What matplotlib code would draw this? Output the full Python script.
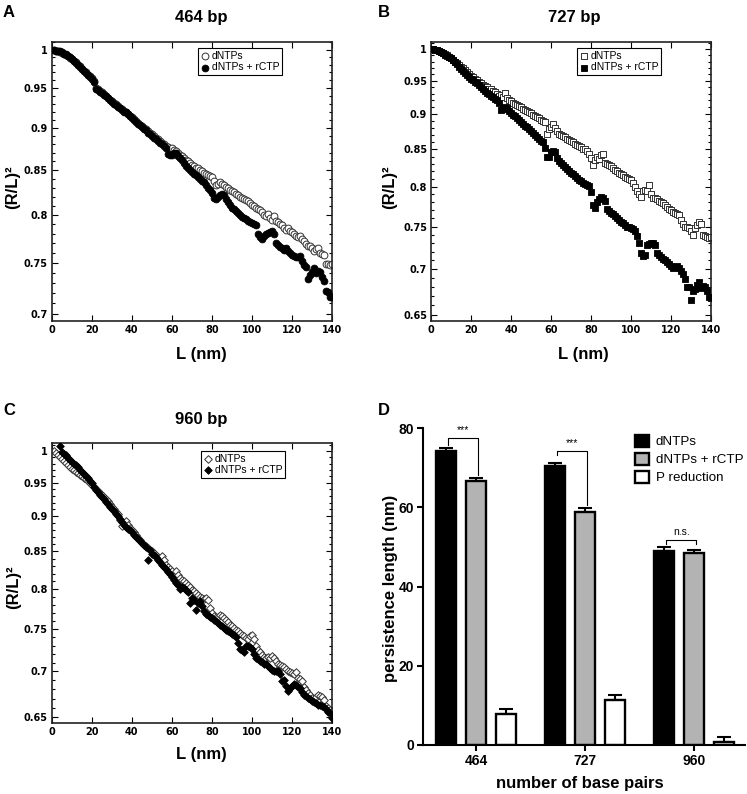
import numpy as np
import matplotlib
matplotlib.use("Agg")
import matplotlib.pyplot as plt
from matplotlib.ticker import FixedLocator, FixedFormatter, NullFormatter

plt.rcParams['font.family'] = ['Liberation Sans', 'DejaVu Sans']

# ---- panel A : 464 bp ----
L_a = np.arange(1, 141)
a_dntp = [1.000, 0.999, 0.998, 0.997, 0.996, 0.995, 0.993, 0.991, 0.989, 0.987,
          0.985, 0.983, 0.980, 0.978, 0.975, 0.972, 0.970, 0.967, 0.965, 0.962,
          0.959, 0.950, 0.948, 0.946, 0.944, 0.942, 0.940, 0.937, 0.935, 0.933,
          0.931, 0.929, 0.927, 0.925, 0.923, 0.921, 0.919, 0.917, 0.915, 0.913,
          0.911, 0.908, 0.906, 0.904, 0.902, 0.900, 0.898, 0.896, 0.894, 0.892,
          0.890, 0.888, 0.886, 0.884, 0.882, 0.880, 0.878, 0.877, 0.875, 0.876,
          0.874, 0.872, 0.870, 0.868, 0.866, 0.864, 0.862, 0.860, 0.858, 0.856,
          0.855, 0.853, 0.852, 0.850, 0.849, 0.847, 0.846, 0.844, 0.843, 0.842,
          0.838, 0.833, 0.834, 0.836, 0.834, 0.833, 0.831, 0.830, 0.828, 0.826,
          0.825, 0.823, 0.822, 0.820, 0.819, 0.818, 0.816, 0.815, 0.813, 0.811,
          0.810, 0.808, 0.806, 0.805, 0.803, 0.800, 0.799, 0.801, 0.797, 0.795,
          0.799, 0.794, 0.792, 0.790, 0.789, 0.786, 0.784, 0.786, 0.783, 0.782,
          0.780, 0.778, 0.777, 0.778, 0.774, 0.772, 0.769, 0.767, 0.767, 0.765,
          0.762, 0.764, 0.765, 0.760, 0.759, 0.758, 0.749, 0.749, 0.748, 0.749]
a_rctp = [1.000, 0.999, 0.999, 0.998, 0.997, 0.995, 0.994, 0.992, 0.990, 0.987,
          0.985, 0.982, 0.980, 0.977, 0.974, 0.972, 0.969, 0.967, 0.964, 0.961,
          0.958, 0.948, 0.947, 0.945, 0.943, 0.941, 0.939, 0.937, 0.935, 0.932,
          0.930, 0.928, 0.926, 0.924, 0.922, 0.920, 0.920, 0.917, 0.914, 0.912,
          0.910, 0.907, 0.905, 0.903, 0.901, 0.899, 0.897, 0.894, 0.892, 0.890,
          0.888, 0.886, 0.884, 0.882, 0.880, 0.878, 0.876, 0.869, 0.867, 0.868,
          0.870, 0.870, 0.866, 0.864, 0.862, 0.858, 0.855, 0.852, 0.850, 0.848,
          0.846, 0.844, 0.842, 0.840, 0.838, 0.836, 0.833, 0.830, 0.827, 0.824,
          0.819, 0.817, 0.820, 0.822, 0.823, 0.822, 0.817, 0.814, 0.811, 0.808,
          0.806, 0.804, 0.802, 0.800, 0.798, 0.797, 0.796, 0.794, 0.793, 0.791,
          0.790, 0.789, 0.780, 0.777, 0.775, 0.778, 0.780, 0.781, 0.782, 0.783,
          0.780, 0.770, 0.768, 0.766, 0.765, 0.763, 0.765, 0.762, 0.760, 0.758,
          0.757, 0.756, 0.756, 0.757, 0.752, 0.748, 0.746, 0.734, 0.738, 0.741,
          0.745, 0.740, 0.742, 0.741, 0.736, 0.732, 0.722, 0.721, 0.716, 0.716]

# ---- panel B : 727 bp ----
L_b = np.arange(1, 141)
b_dntp = [1.000, 0.999, 0.998, 0.997, 0.995, 0.994, 0.992, 0.990, 0.988, 0.985,
          0.983, 0.980, 0.977, 0.974, 0.972, 0.969, 0.966, 0.963, 0.960, 0.958,
          0.956, 0.953, 0.951, 0.948, 0.946, 0.944, 0.942, 0.940, 0.938, 0.937,
          0.935, 0.933, 0.930, 0.926, 0.928, 0.925, 0.931, 0.923, 0.921, 0.919,
          0.917, 0.915, 0.914, 0.912, 0.910, 0.908, 0.906, 0.905, 0.903, 0.901,
          0.899, 0.897, 0.895, 0.894, 0.892, 0.890, 0.888, 0.872, 0.879, 0.882,
          0.885, 0.880, 0.876, 0.872, 0.870, 0.869, 0.867, 0.865, 0.863, 0.861,
          0.860, 0.858, 0.856, 0.855, 0.853, 0.851, 0.850, 0.848, 0.844, 0.838,
          0.829, 0.836, 0.840, 0.837, 0.842, 0.844, 0.832, 0.830, 0.829, 0.827,
          0.824, 0.822, 0.820, 0.818, 0.816, 0.815, 0.813, 0.812, 0.810, 0.809,
          0.805, 0.800, 0.794, 0.790, 0.787, 0.795, 0.796, 0.794, 0.802, 0.790,
          0.786, 0.785, 0.784, 0.782, 0.780, 0.779, 0.777, 0.774, 0.772, 0.770,
          0.768, 0.767, 0.765, 0.764, 0.758, 0.753, 0.750, 0.749, 0.748, 0.745,
          0.740, 0.748, 0.752, 0.756, 0.753, 0.740, 0.739, 0.737, 0.736, 0.737]
b_rctp = [1.000, 0.999, 0.998, 0.997, 0.995, 0.993, 0.991, 0.989, 0.987, 0.985,
          0.982, 0.979, 0.976, 0.971, 0.968, 0.965, 0.962, 0.959, 0.956, 0.953,
          0.951, 0.948, 0.946, 0.943, 0.940, 0.938, 0.935, 0.932, 0.930, 0.927,
          0.925, 0.922, 0.920, 0.917, 0.906, 0.907, 0.911, 0.909, 0.905, 0.902,
          0.899, 0.897, 0.894, 0.891, 0.889, 0.886, 0.883, 0.881, 0.878, 0.875,
          0.873, 0.870, 0.867, 0.864, 0.862, 0.860, 0.852, 0.840, 0.839, 0.846,
          0.847, 0.846, 0.838, 0.834, 0.831, 0.829, 0.826, 0.823, 0.821, 0.818,
          0.816, 0.814, 0.811, 0.809, 0.807, 0.805, 0.803, 0.802, 0.801, 0.793,
          0.777, 0.773, 0.780, 0.784, 0.787, 0.786, 0.782, 0.771, 0.769, 0.767,
          0.765, 0.763, 0.760, 0.758, 0.756, 0.754, 0.752, 0.750, 0.749, 0.748,
          0.747, 0.745, 0.738, 0.730, 0.719, 0.715, 0.716, 0.728, 0.729, 0.730,
          0.730, 0.728, 0.719, 0.716, 0.714, 0.712, 0.710, 0.708, 0.706, 0.703,
          0.701, 0.702, 0.703, 0.701, 0.698, 0.694, 0.689, 0.680, 0.680, 0.666,
          0.676, 0.678, 0.682, 0.685, 0.679, 0.681, 0.680, 0.676, 0.669, 0.668]

# ---- panel C : 960 bp ----
L_c_dntp = np.arange(1, 141)
L_c_rctp = np.arange(4, 141)
c_dntp = [1.000, 0.997, 0.993, 0.990, 0.987, 0.984, 0.981, 0.978, 0.975, 0.972,
          0.970, 0.967, 0.965, 0.962, 0.960, 0.957, 0.955, 0.952, 0.949, 0.946,
          0.943, 0.940, 0.937, 0.934, 0.931, 0.928, 0.925, 0.922, 0.918, 0.914,
          0.910, 0.906, 0.903, 0.895, 0.886, 0.889, 0.893, 0.887, 0.883, 0.880,
          0.877, 0.873, 0.869, 0.866, 0.862, 0.859, 0.857, 0.855, 0.852, 0.850,
          0.848, 0.845, 0.842, 0.840, 0.844, 0.838, 0.832, 0.829, 0.826, 0.823,
          0.820, 0.823, 0.818, 0.814, 0.812, 0.810, 0.808, 0.805, 0.802, 0.799,
          0.797, 0.795, 0.792, 0.790, 0.789, 0.787, 0.788, 0.786, 0.776, 0.770,
          0.766, 0.764, 0.765, 0.767, 0.766, 0.763, 0.761, 0.758, 0.755, 0.753,
          0.751, 0.749, 0.747, 0.745, 0.743, 0.741, 0.739, 0.738, 0.741, 0.743,
          0.738, 0.729, 0.725, 0.722, 0.719, 0.717, 0.716, 0.717, 0.716, 0.718,
          0.716, 0.712, 0.709, 0.707, 0.706, 0.705, 0.703, 0.701, 0.699, 0.698,
          0.697, 0.699, 0.693, 0.691, 0.689, 0.683, 0.679, 0.676, 0.674, 0.671,
          0.670, 0.672, 0.674, 0.673, 0.672, 0.668, 0.662, 0.660, 0.658, 0.657]
c_rctp = [1.008, 0.998, 0.996, 0.993, 0.989, 0.986, 0.983, 0.980, 0.977, 0.974,
          0.970, 0.967, 0.964, 0.961, 0.957, 0.953, 0.949, 0.944, 0.939, 0.936,
          0.932, 0.928, 0.925, 0.921, 0.918, 0.914, 0.911, 0.907, 0.903, 0.900,
          0.896, 0.892, 0.887, 0.885, 0.882, 0.880, 0.877, 0.873, 0.870, 0.867,
          0.864, 0.862, 0.859, 0.856, 0.839, 0.852, 0.847, 0.845, 0.842, 0.838,
          0.835, 0.832, 0.829, 0.826, 0.822, 0.819, 0.815, 0.812, 0.808, 0.805,
          0.800, 0.802, 0.801, 0.799, 0.796, 0.782, 0.789, 0.786, 0.773, 0.782,
          0.784, 0.778, 0.772, 0.768, 0.767, 0.765, 0.763, 0.761, 0.759, 0.757,
          0.755, 0.753, 0.751, 0.749, 0.747, 0.746, 0.744, 0.742, 0.740, 0.733,
          0.726, 0.725, 0.722, 0.729, 0.730, 0.728, 0.726, 0.720, 0.716, 0.714,
          0.712, 0.711, 0.709, 0.708, 0.706, 0.704, 0.702, 0.701, 0.700, 0.700,
          0.697, 0.689, 0.690, 0.684, 0.678, 0.682, 0.684, 0.686, 0.685, 0.683,
          0.682, 0.677, 0.674, 0.673, 0.671, 0.669, 0.667, 0.666, 0.665, 0.663,
          0.663, 0.662, 0.661, 0.659, 0.656, 0.654, 0.649]

# ---- panel D : persistence length ----
bp_labels = ['464', '727', '960']
p_dntp = [74.3, 70.5, 49.1]
p_dntp_err = [0.8, 0.8, 0.8]
p_rctp = [66.7, 58.9, 48.4]
p_rctp_err = [0.8, 0.9, 0.9]
p_red = [7.8, 11.4, 0.7]
p_red_err = [1.2, 1.3, 1.2]
sig_text = ['***', '***', 'n.s.']

fig = plt.figure(figsize=(7.47, 7.94), dpi=100)
W, H = 747.0, 794.0


def fx(px):
    return px / W


def fy(py):
    return 1 - py / H


def curve_panel(ax, x1, y1, x2, y2, marker, size, yticks, ylim, leg_anchor):
    ax.scatter(x1, y1, s=size, marker=marker, facecolors='white',
               edgecolors='#333333', linewidths=0.7, label='dNTPs', zorder=2)
    ax.scatter(x2, y2, s=size, marker=marker, facecolors='black',
               edgecolors='black', linewidths=0.6, label='dNTPs + rCTP', zorder=3)
    ax.set_yscale('log')
    ax.set_xlim(0, 140)
    ax.set_ylim(*ylim)
    ax.set_xticks(range(0, 141, 20))
    ax.yaxis.set_major_locator(FixedLocator(yticks))
    ax.yaxis.set_major_formatter(FixedFormatter(['%g' % t for t in yticks]))
    ax.yaxis.set_minor_locator(FixedLocator([round(0.6 + 0.01 * i, 2) for i in range(42)]))
    ax.yaxis.set_minor_formatter(NullFormatter())
    ax.tick_params(which='both', direction='in', top=True, right=True, width=0.8)
    ax.tick_params(which='major', length=4, labelsize=7, pad=3)
    ax.tick_params(which='minor', length=2)
    for lab in ax.get_xticklabels() + ax.get_yticklabels():
        lab.set_family('DejaVu Sans')
        lab.set_weight('bold')
    for sp in ax.spines.values():
        sp.set_linewidth(1.2)
        sp.set_color('#222222')
    leg = ax.legend(loc='upper right', bbox_to_anchor=leg_anchor, fontsize=7.5,
                    scatterpoints=1, handlelength=0.8, handletextpad=0.3,
                    borderpad=0.25, labelspacing=0.15, borderaxespad=0,
                    fancybox=False, edgecolor='black', framealpha=1)
    leg.get_frame().set_linewidth(0.8)


axA = fig.add_axes([fx(51.7), fy(321), fx(280), 279.3 / H])
curve_panel(axA, L_a, a_dntp, L_a, a_rctp, 'o', 24,
            [0.7, 0.75, 0.8, 0.85, 0.9, 0.95, 1], (0.6933, 1.011), (0.8225, 0.977))

axB = fig.add_axes([fx(431.3), fy(321), fx(280), 279.3 / H])
curve_panel(axB, L_b, b_dntp, L_b, b_rctp, 's', 16,
            [0.65, 0.7, 0.75, 0.8, 0.85, 0.9, 0.95, 1], (0.6435, 1.012), (0.820, 0.977))

axC = fig.add_axes([fx(51.7), fy(723.3), fx(280), 280 / H])
curve_panel(axC, L_c_dntp, c_dntp, L_c_rctp, c_rctp, 'D', 15,
            [0.65, 0.7, 0.75, 0.8, 0.85, 0.9, 0.95, 1], (0.6437, 1.0126), (0.833, 0.9725))

# titles, axis labels, panel letters placed in figure pixels
for (cx, by, txt) in [(201.7, 21.7, '464 bp'), (574.7, 21.7, '727 bp'), (201.7, 424, '960 bp')]:
    fig.text(fx(cx), fy(by), txt, ha='center', va='baseline', fontsize=12, weight='bold')
for (cx, by) in [(201.7, 359), (583.7, 359), (201.7, 759)]:
    fig.text(fx(cx), fy(by), 'L (nm)', ha='center', va='baseline', fontsize=12, weight='bold')
for (cx, cy) in [(12.5, 186.7), (389.7, 186.7), (13.3, 586.7)]:
    fig.text(fx(cx), fy(cy), '(R/L)²', ha='center', va='center', rotation=90,
             fontsize=12, weight='bold')
for (lx, by, letter) in [(3, 16.7, 'A'), (378, 16.7, 'B'), (3, 415, 'C'), (378, 415, 'D')]:
    fig.text(fx(lx), fy(by), letter, ha='left', va='baseline', fontsize=12, weight='bold')

# ---- panel D bars ----
axD = fig.add_axes([fx(423), fy(745), fx(321.7), 316.7 / H])
x = np.arange(len(bp_labels))
off = 0.275
bw = 0.19
zeros = [0, 0, 0]
series = [(-off, p_dntp, p_dntp_err, 'black', 'dNTPs'),
          (0.0, p_rctp, p_rctp_err, '#b3b3b3', 'dNTPs + rCTP'),
          (off, p_red, p_red_err, 'white', 'P reduction')]
for dx, vals, errs, col, lab in series:
    axD.errorbar(x + dx, vals, yerr=[zeros, errs], fmt='none', ecolor='black',
                 elinewidth=1.5, capsize=4.7, capthick=1.5, zorder=1)
    axD.bar(x + dx, vals, width=bw, color=col, edgecolor='black', linewidth=1.7,
            label=lab, zorder=2)

# significance brackets: (left y, top y, right y)
brackets = [(75.8, 77.5, 68.2), (73.3, 74.3, 60.6), (50.8, 51.8, 50.8)]
for i, (yl, yt, yr) in enumerate(brackets):
    xl, xr = i - off + 0.02, i + 0.02
    axD.plot([xl, xl, xr, xr], [yl, yt, yt, yr], color='black', lw=0.8, zorder=3)
    axD.text((xl + xr) / 2, yt + 1.3, sig_text[i], ha='center', va='baseline', fontsize=7.5)

axD.set_xlim(-0.486, 2.465)
axD.set_ylim(0, 80)
axD.set_yticks([0, 20, 40, 60, 80])
axD.set_xticks(x)
axD.set_xticklabels(bp_labels)
axD.spines['top'].set_visible(False)
axD.spines['right'].set_visible(False)
axD.spines['left'].set_linewidth(1.5)
axD.spines['bottom'].set_linewidth(1.5)
axD.tick_params(direction='out', length=4.5, width=1.5, labelsize=10, pad=2)
for lab in axD.get_xticklabels() + axD.get_yticklabels():
    lab.set_weight('bold')
fig.text(fx(390.5), fy(588.5), 'persistence length (nm)', ha='center', va='center',
         rotation=90, fontsize=12, weight='bold')
fig.text(fx(579.7), fy(788), 'number of base pairs', ha='center', va='baseline',
         fontsize=12, weight='bold')
axD.legend(loc='upper left', bbox_to_anchor=(fx(634.7), fy(435)),
           bbox_transform=fig.transFigure, frameon=False, fontsize=9.6,
           handlelength=1.1, handleheight=0.95, handletextpad=0.48,
           labelspacing=0.35, borderpad=0, borderaxespad=0)

fig.savefig('out.png', dpi=100)
